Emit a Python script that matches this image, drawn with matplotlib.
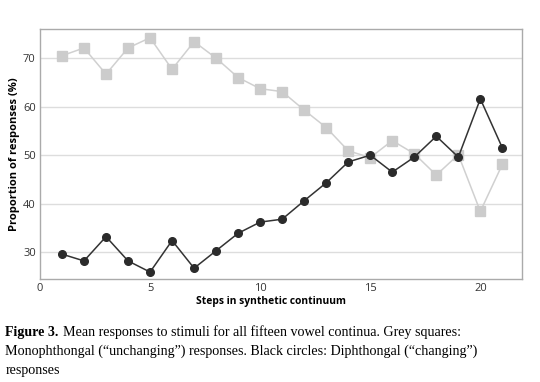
import matplotlib
matplotlib.use("Agg")
import matplotlib.pyplot as plt

steps = list(range(1, 22))
mono = [70.5, 72.1, 66.7, 72.1, 74.2, 67.7, 73.4, 70.0, 66.0, 63.7, 63.1,
        59.3, 55.7, 50.9, 49.5, 53.0, 50.3, 45.9, 50.1, 38.4, 48.1]
diph = [29.6, 28.2, 33.2, 28.2, 25.9, 32.4, 26.7, 30.3, 33.9, 36.2, 36.8,
        40.6, 44.3, 48.6, 50.0, 46.5, 49.6, 53.9, 49.6, 61.6, 51.5]
xticks = [0, 5, 10, 15, 20]
yticks = [30, 40, 50, 60, 70]

fig = plt.figure(figsize=(5.4, 3.82), dpi=100)
ax = fig.add_axes([0.074, 0.270, 0.893, 0.654])

ax.plot(steps, mono, color="#d0d0d0", lw=1.1, marker="s", ms=7.5,
        mec="#cccccc", mfc="#cccccc", zorder=3)
ax.plot(steps, diph, color="#333333", lw=1.1, marker="o", ms=5.5,
        mec="#2b2b2b", mfc="#2b2b2b", zorder=4)

ax.set_xlim(0, 21.9)
ax.set_ylim(24.5, 76)
ax.set_xticks(xticks)
ax.set_yticks(yticks)
ax.yaxis.grid(True, color="#dddddd", lw=1)
ax.set_axisbelow(True)
for s in ax.spines.values():
    s.set_color("#aaaaaa")
    s.set_linewidth(1)
ax.tick_params(length=0, labelsize=8, colors="#333333", pad=3)
for lab in ax.get_xticklabels() + ax.get_yticklabels():
    lab.set_family("Open Sans")

ax.set_xlabel("Steps in synthetic continuum", fontsize=7.4, fontweight="bold",
              family="Open Sans")
ax.xaxis.set_label_coords(0.48, -0.07)
ax.set_ylabel("Proportion of responses (%)", fontsize=8, fontweight="bold",
              family="Open Sans")
ax.yaxis.set_label_coords(-0.042, 0.5)

cf = dict(fontsize=10.1, family="Liberation Serif", va="baseline")
fig.text(0.010, 0.120, "Figure 3.", fontweight="bold", **cf)
fig.text(0.117, 0.120, "Mean responses to stimuli for all fifteen vowel continua. Grey squares:", **cf)
fig.text(0.010, 0.072, "Monophthongal (\u201cunchanging\u201d) responses. Black circles: Diphthongal (\u201cchanging\u201d)", **cf)
fig.text(0.010, 0.021, "responses", **cf)

fig.savefig("out.png", dpi=100)
